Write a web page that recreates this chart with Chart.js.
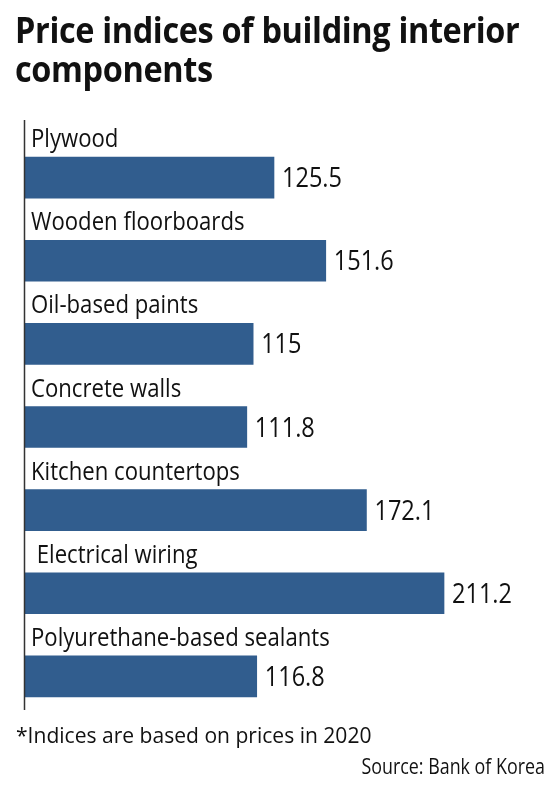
<!DOCTYPE html>
<html>
<head>
<meta charset="utf-8">
<script src="https://cdn.jsdelivr.net/npm/chart.js@4.4.1/dist/chart.umd.min.js"></script>
<style>
  body { margin: 0; background: #fff; }
  #wrap { position: relative; width: 559px; height: 787px; overflow: hidden; font-family: "Open Sans", sans-serif; color: #111; }
  #title { position: absolute; left: 15px; top: 10px; font-size: 35px; font-weight: 700; line-height: 39px; letter-spacing: -0.4px; white-space: nowrap; transform: scaleX(0.928); transform-origin: left top; }
  #note { position: absolute; left: 16px; top: 719px; font-size: 22px; white-space: nowrap; transform: scaleX(0.957); transform-origin: left top; }
  #source { position: absolute; right: 14px; top: 751px; font-size: 21.5px; white-space: nowrap; transform: scaleX(0.83); transform-origin: right top; }
  #statsChart { position: absolute; left: 0; top: 0; }
</style>
</head>
<body>
<div id="wrap">
  <canvas id="statsChart" width="559" height="787"></canvas>
  <div id="title">Price indices of building interior<br>components</div>
  <div id="note">*Indices are based on prices in 2020</div>
  <div id="source">Source: Bank of Korea</div>
</div>
<script>
const categories = ['Plywood', 'Wooden floorboards', 'Oil-based paints', 'Concrete walls', 'Kitchen countertops', ' Electrical wiring', 'Polyurethane-based sealants'];
const indexValues = [125.5, 151.6, 115, 111.8, 172.1, 211.2, 116.8];
const valueLabels = ['125.5', '151.6', '115', '111.8', '172.1', '211.2', '116.8'];

const ctx = document.getElementById('statsChart').getContext('2d');

// 글자를 가로로 좁혀서 쓰기
function narrowText(c, text, x, y, sx) {
  c.save();
  c.translate(x, y);
  c.scale(sx, 1);
  c.fillText(text, 0, 0);
  c.restore();
}

// 막대 위에 항목명, 오른쪽에 값 쓰기
const labelPlugin = {
  id: 'barLabels',
  afterDatasetsDraw(chart) {
    const c = chart.ctx;
    const bars = chart.getDatasetMeta(0).data;
    c.save();
    c.fillStyle = '#111';
    c.textAlign = 'left';
    c.textBaseline = 'alphabetic';
    bars.forEach((bar, i) => {
      const top = bar.y - bar.height / 2;
      c.font = '26px "Open Sans"';
      narrowText(c, categories[i], 31, top - 10, 0.852);
      c.font = '28px "Open Sans"';
      narrowText(c, valueLabels[i], bar.x + 8, bar.y + 9.5, 0.84);
    });
    // 세로 기준선
    c.strokeStyle = '#333';
    c.lineWidth = 1.5;
    c.beginPath();
    c.moveTo(24.5, 120);
    c.lineTo(24.5, 710);
    c.stroke();
    c.restore();
  }
};

new Chart(ctx, {
  type: 'bar',
  data: {
    labels: categories,
    datasets: [{
      data: indexValues,
      backgroundColor: '#315d8e',
      borderWidth: 0,
      barThickness: 41
    }]
  },
  options: {
    indexAxis: 'y',
    responsive: false,
    animation: false,
    layout: { padding: { left: 25, right: 38, top: 136, bottom: 69 } },
    plugins: { legend: { display: false }, tooltip: { enabled: false } },
    scales: {
      x: { display: false, min: 0, max: 250 },
      y: { display: false }
    }
  },
  plugins: [labelPlugin]
});
</script>
</body>
</html>
